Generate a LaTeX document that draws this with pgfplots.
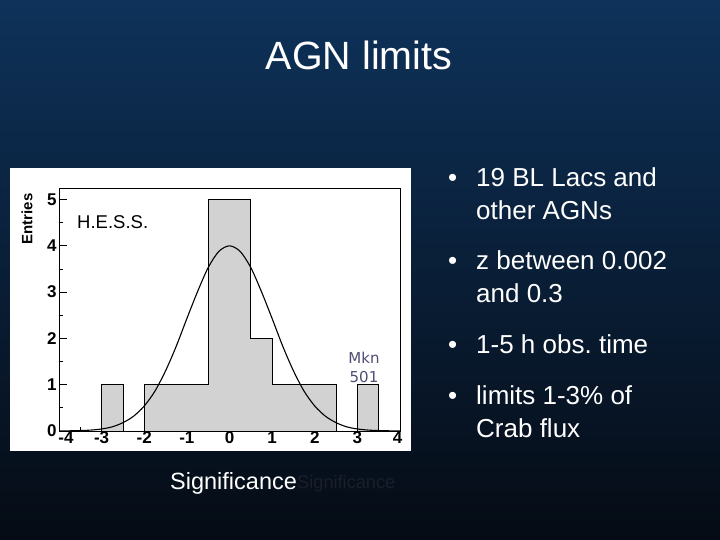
\documentclass[border=0pt]{standalone}
\usepackage{pgfplots}
\pgfplotsset{compat=1.18}
\usepackage{fontspec}
\setmainfont{Liberation Sans}
\newfontfamily\dejavu{DejaVu Sans}
\definecolor{bgtop}{RGB}{14,50,90}
\definecolor{bgmid}{RGB}{10,36,68}
\definecolor{bgbot}{RGB}{5,11,20}
\definecolor{histgray}{RGB}{210,210,210}
\definecolor{mkncol}{RGB}{78,78,115}
\definecolor{ghost}{RGB}{26,31,42}
\newcommand{\fs}[1]{\fontsize{#1}{#1}\selectfont}
\frenchspacing
\begin{document}
\begin{tikzpicture}[x=1pt,y=1pt]
\shade[top color=bgtop, middle color=bgmid, bottom color=bgbot] (0,0) rectangle (720,540);
\fill[white] (10,89) rectangle (411,372);
\begin{axis}[
  at={(59pt,109pt)}, anchor=south west,
  scale only axis, width=341pt, height=243pt,
  xmin=-4, xmax=4, ymin=0, ymax=5.25,
  xtick={-4,-3,-2,-1,0,1,2,3,4},
  xticklabels={\hspace*{14pt}-4,-3,-2,-1,0,1,2,3,4\hspace*{5pt}},
  ytick={0,1,2,3,4,5},
  minor x tick num=1, minor y tick num=1,
  tick pos=left, tick align=inside,
  major tick length=8pt, minor tick length=4pt,
  axis line style={line width=0.8pt},
  tick style={line width=0.8pt, black},
  /pgf/number format/assume math mode=true,
  ticklabel style={font=\bfseries\fs{17}},
  xticklabel style={yshift=3pt},
  yticklabel style={xshift=1pt},
  axis background/.style={fill=white},
]
\addplot[const plot, fill=histgray, draw=black, line width=0.8pt] coordinates {
  (-4,0) (-3,1) (-2.5,0) (-2,1) (-1.5,1) (-1,1) (-0.5,5) (0,5) (0.5,2) (1,1) (1.5,1) (2,1) (2.5,0) (3,1) (3.5,0) (4,0)
} \closedcycle;
\addplot[smooth, black, line width=1.1pt] coordinates {
  (-4,0.001) (-3.75,0.004) (-3.5,0.009) (-3.25,0.02) (-3,0.044) (-2.75,0.09) (-2.5,0.18) (-2.25,0.32)
  (-2,0.54) (-1.75,0.86) (-1.5,1.30) (-1.25,1.83) (-1,2.43) (-0.75,3.01) (-0.5,3.53) (-0.25,3.88)
  (0,4) (0.25,3.88) (0.5,3.53) (0.75,3.01) (1,2.43) (1.25,1.83) (1.5,1.30) (1.75,0.86) (2,0.54)
  (2.25,0.32) (2.5,0.18) (2.75,0.09) (3,0.044) (3.25,0.02) (3.5,0.009) (3.75,0.004) (4,0.001)
};
\end{axis}
% axis title and annotations
\node[rotate=90, font=\bfseries\fs{15}, inner sep=0pt] at (27,321) {Entries};
\node[anchor=base west, font=\fs{18.5}, inner sep=0pt] at (77,311) {H.E.S.S.};
\node[font=\dejavu\fs{15}, text=mkncol, inner sep=0pt] at (364,182) {Mkn};
\node[font=\dejavu\fs{15}, text=mkncol, inner sep=0pt] at (364,163) {501};
\node[anchor=base west, font=\fs{23.5}, text=white, inner sep=0pt] at (170,50) {Significance};
\node[anchor=base west, font=\fs{18.2}, text=ghost, inner sep=0pt] at (297,51) {Significance};
% slide title
\node[anchor=base, font=\fs{39.4}, text=white, inner sep=0pt] at (359,470) {AGN limits};
% bullets
\begin{scope}[every node/.style={anchor=base west, font=\fs{26}, text=white, inner sep=0pt}]
\node at (448,353) {\textbullet};
\node at (476,353) {19 BL Lacs and};
\node at (476,320) {other AGNs};
\node at (448,270) {\textbullet};
\node at (476,270) {z between 0.002};
\node at (476,237) {and 0.3};
\node at (448,186) {\textbullet};
\node at (476,186) {1-5 h obs. time};
\node at (448,135) {\textbullet};
\node at (476,135) {limits 1-3\% of};
\node at (476,102) {Crab flux};
\end{scope}
\end{tikzpicture}
\end{document}
